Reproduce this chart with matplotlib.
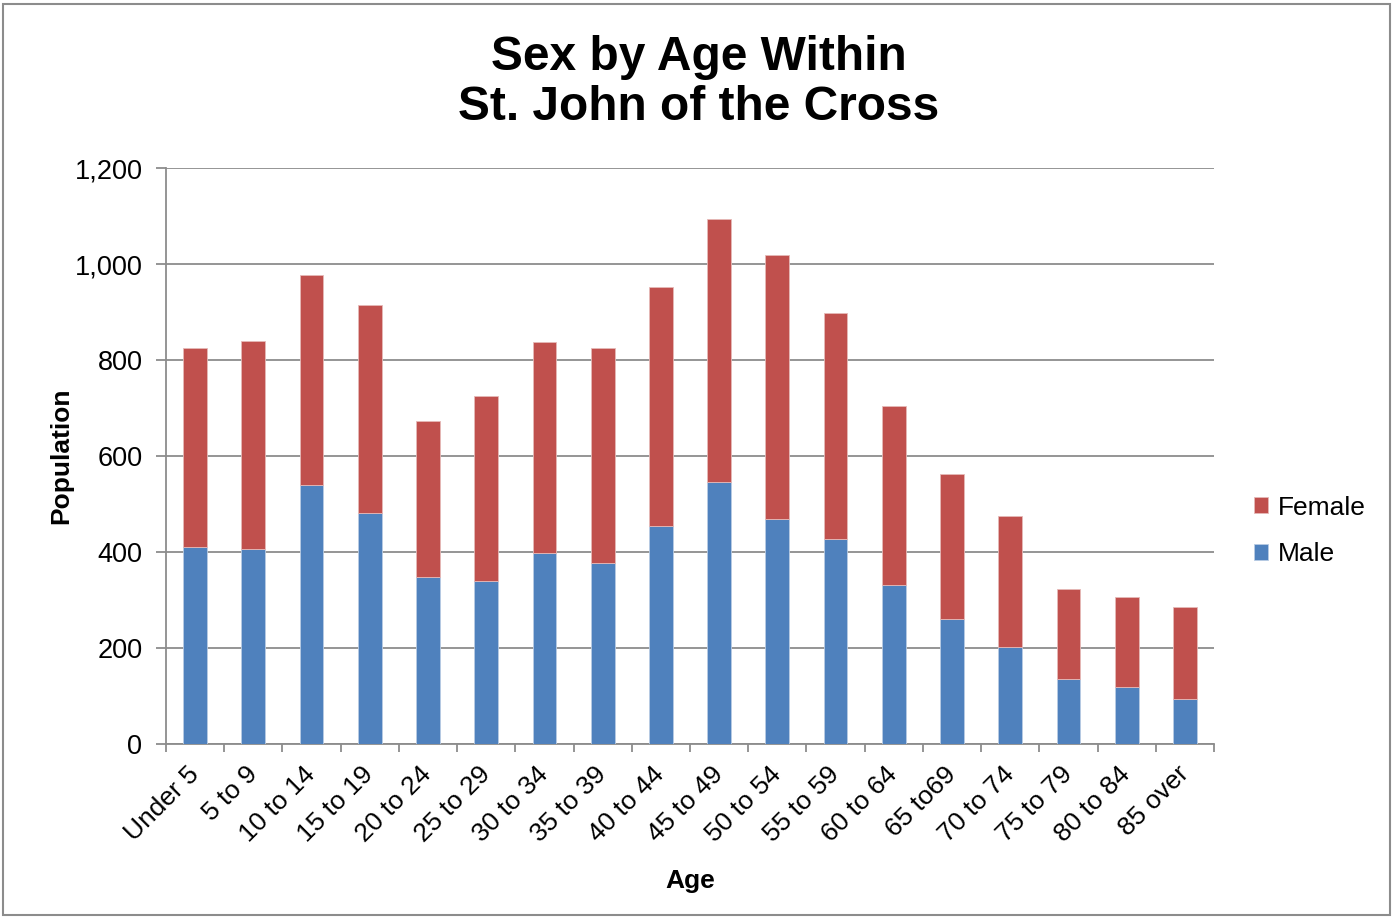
import numpy as np
import matplotlib.pyplot as plt
from matplotlib.patches import Rectangle
from matplotlib.ticker import FuncFormatter, FixedLocator

ages = ["Under 5", "5 to 9", "10 to 14", "15 to 19", "20 to 24", "25 to 29",
        "30 to 34", "35 to 39", "40 to 44", "45 to 49", "50 to 54", "55 to 59",
        "60 to 64", "65 to69", "70 to 74", "75 to 79", "80 to 84", "85 over"]
male = [410, 406, 540, 481, 348, 340, 398, 377, 454, 546, 469, 427,
        331, 260, 202, 135, 119, 94]
total = [825, 840, 977, 915, 673, 725, 837, 825, 952, 1094, 1019, 898,
         704, 563, 475, 323, 306, 285]
female = [t - m for t, m in zip(total, male)]

plt.rcParams['font.family'] = ['Liberation Sans', 'DejaVu Sans']
blue = "#4F81BD"
red = "#C0504D"
grid = "#8C8C8C"

fig = plt.figure(figsize=(13.97, 9.17), dpi=100)
ax = fig.add_axes([166 / 1397, 1 - 744 / 917, 1048 / 1397, 576 / 917])

x = np.arange(len(ages))
ax.bar(x, male, width=0.41, color=blue, edgecolor="#B8CCE4", linewidth=0.6,
       label="Male", zorder=3)
ax.bar(x, female, width=0.41, bottom=male, color=red, edgecolor="#E6B9B8",
       linewidth=0.6, label="Female", zorder=3)

ax.set_xlim(-0.5, len(ages) - 0.5)
ax.set_ylim(0, 1200)
ax.set_yticks(range(0, 1201, 200))
ax.yaxis.set_major_formatter(FuncFormatter(lambda v, p: f"{int(v):,}"))
ax.yaxis.grid(True, color=grid, linewidth=1.3, zorder=0)

ax.set_xticks(x)
ax.set_xticklabels(ages, rotation=45, ha="right", va="center",
                   rotation_mode="anchor", fontsize=19)
ax.tick_params(axis="x", which="major", length=0, pad=19)
ax.xaxis.set_minor_locator(FixedLocator(np.arange(-0.5, len(ages), 1.0)))
ax.tick_params(axis="x", which="minor", length=6, width=1.3, color=grid)
ax.tick_params(axis="y", length=7, width=1.3, color=grid, labelsize=19.5,
               pad=10)

for s in ["top", "right"]:
    ax.spines[s].set_visible(False)
for s in ["left", "bottom"]:
    ax.spines[s].set_color(grid)
    ax.spines[s].set_linewidth(1.3)

ax.set_ylabel("Population", fontsize=19, fontweight="bold", labelpad=1)
ax.set_xlabel("Age", fontsize=19, fontweight="bold", labelpad=16)

fig.suptitle("Sex by Age Within\nSt. John of the Cross", fontsize=34.5,
             fontweight="bold", y=0.962, x=0.5, linespacing=1.15)

handles, labels = ax.get_legend_handles_labels()
fig.legend(handles[::-1], labels[::-1], loc="center left",
           bbox_to_anchor=(1230 / 1397, 1 - 531 / 917), frameon=False,
           fontsize=19, handlelength=0.55, handleheight=0.55,
           handletextpad=0.35, labelspacing=0.85)

fig.patches.append(Rectangle((3 / 1397, 0.002), 1387 / 1397, 0.994,
                             transform=fig.transFigure, fill=False,
                             edgecolor="#8C8C8C", linewidth=1.5))

fig.savefig("out.png", dpi=100)
